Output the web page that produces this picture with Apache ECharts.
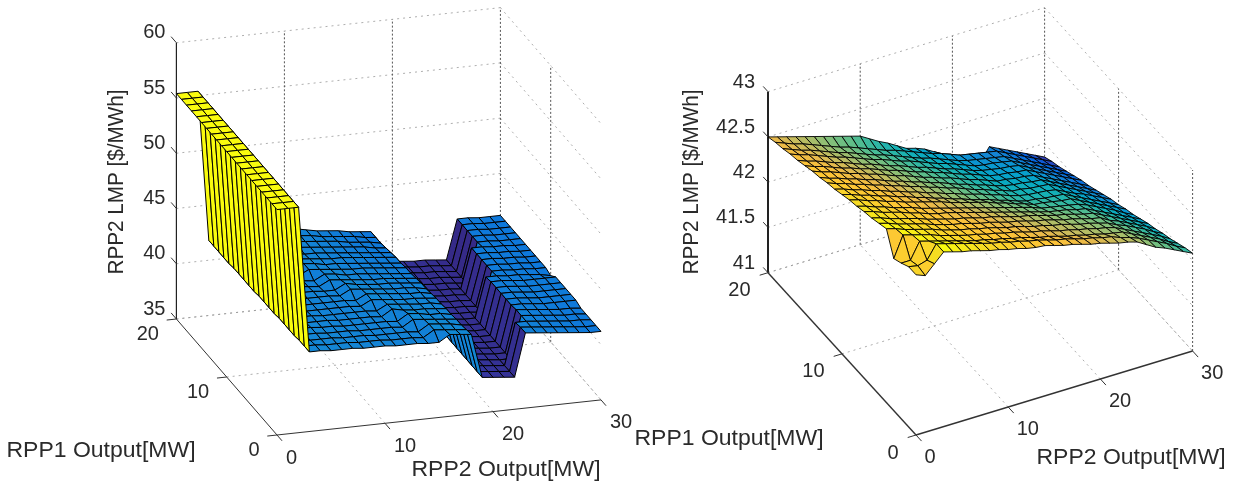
<!DOCTYPE html>
<html><head><meta charset="utf-8">
<style>html,body{margin:0;padding:0;background:#fff}#c{width:1233px;height:486px}</style>
<script src="https://cdn.jsdelivr.net/npm/echarts@6/dist/echarts.min.js"></script>
</head><body><div id="c"></div>
<script>
// ---- tick values
const rpp2Ticks = [0, 10, 20, 30];
const rpp1Ticks = [0, 10, 20];
const lmpTicksLeft = [35, 40, 45, 50, 55, 60];
const lmpTicksRight = [41, 41.5, 42, 42.5, 43];
const lmpLabelsRight = ['41', '41.5', '42', '42.5', '43'];
// ---- LMP surfaces: one row per RPP1 output (0..20 MW), one column per RPP2 output (0..30 MW)
const lmpLeft = [
[55.4,55.4,55.4,42.2,42.2,42.1,42.1,42.1,42.0,42.0,42.0,41.9,41.9,41.9,41.8,41.8,42.4,42.3,42.2,38.2,38.1,38.0,37.9,41.8,41.7,41.6,41.5,41.4,41.3,41.2,41.2],
[55.4,55.4,55.4,42.2,42.2,42.1,42.1,42.1,42.0,42.0,42.0,41.9,41.9,41.9,41.8,42.4,42.3,42.2,42.1,38.2,38.1,38.0,37.9,41.8,41.7,41.6,41.5,41.4,41.3,41.2,41.2],
[55.4,55.4,55.4,42.2,42.1,42.1,42.1,42.0,42.0,42.0,41.9,41.9,41.9,41.9,41.8,42.4,42.3,42.2,42.0,38.2,38.1,38.0,37.9,41.7,41.7,41.6,41.5,41.4,41.3,41.3,41.2],
[55.4,55.4,55.4,42.1,42.1,42.1,42.0,42.0,42.0,41.9,41.9,41.9,41.9,41.8,42.4,42.3,42.2,42.1,42.0,38.2,38.1,38.0,37.9,37.9,41.7,41.6,41.5,41.4,41.3,41.3,41.2],
[55.4,55.4,55.4,42.1,42.1,42.1,42.0,42.0,41.9,41.9,41.9,41.9,41.9,41.8,42.4,42.3,42.1,42.1,41.9,38.2,38.1,38.0,37.9,37.9,41.7,41.6,41.5,41.4,41.3,41.3,41.2],
[55.4,55.4,55.4,42.1,42.1,42.0,42.0,42.0,41.9,41.9,41.9,41.9,41.8,42.4,42.2,42.1,42.1,42.0,41.9,38.2,38.1,38.0,37.9,37.9,41.6,41.6,41.5,41.4,41.4,41.4,41.4],
[55.4,55.4,55.4,42.1,42.0,42.0,42.0,41.9,41.9,41.9,41.9,41.9,41.8,42.3,42.2,42.1,42.0,42.0,41.8,38.2,38.1,38.0,37.9,37.9,41.6,41.6,41.5,41.4,41.4,41.4,41.4],
[55.4,55.4,55.4,42.0,42.0,42.0,41.9,41.9,41.9,41.9,41.9,41.8,42.3,42.2,42.1,42.0,42.0,41.9,41.8,38.2,38.1,38.0,37.9,37.9,41.6,41.6,41.5,41.4,41.4,41.4,41.4],
[55.4,55.4,55.4,42.0,42.0,41.9,41.9,41.9,41.9,41.9,41.9,41.8,42.3,42.2,42.1,42.0,41.9,41.9,41.7,38.2,38.1,38.0,37.9,37.9,41.6,41.6,41.5,41.4,41.4,41.4,41.4],
[55.4,55.4,55.4,42.0,42.0,41.9,41.9,41.9,41.9,41.9,41.8,42.3,42.2,42.1,42.0,41.9,41.9,41.8,41.6,38.2,38.1,38.0,37.9,37.9,41.6,41.6,41.5,41.4,41.4,41.4,41.4],
[55.4,55.4,55.4,42.0,41.9,41.9,41.9,41.9,41.9,41.8,41.8,42.3,42.1,42.0,41.9,41.9,41.8,41.7,41.6,38.2,38.1,38.0,37.9,37.9,41.5,41.5,41.4,41.4,41.3,41.2,41.0],
[55.4,55.4,55.4,41.9,41.9,41.9,41.9,41.9,41.8,41.7,42.2,42.1,42.0,41.9,41.8,41.8,41.7,41.6,41.5,38.2,38.1,38.0,37.9,37.9,37.8,41.4,41.4,41.3,41.3,41.2,41.2],
[55.4,55.4,55.4,41.9,41.9,41.9,41.9,41.8,41.8,41.7,42.2,42.1,41.9,41.9,41.8,41.7,41.6,41.5,41.4,38.2,38.1,38.0,37.9,37.9,37.8,41.4,41.4,41.3,41.3,41.2,41.2],
[55.4,55.4,55.4,41.9,41.9,41.9,41.8,41.8,41.7,42.2,42.1,42.0,41.9,41.8,41.8,41.7,41.6,41.5,41.4,38.2,38.1,38.0,37.9,37.9,37.8,41.4,41.4,41.3,41.3,41.2,41.2],
[55.4,55.4,55.4,41.9,41.9,41.8,41.8,41.8,41.7,42.2,42.1,41.9,41.9,41.8,41.7,41.6,41.5,41.4,41.3,38.2,38.1,38.0,37.9,37.9,37.8,41.4,41.4,41.3,41.3,41.2,41.2],
[55.4,55.4,55.4,41.9,41.8,41.8,41.8,41.7,42.2,42.1,42.0,41.9,41.8,41.8,41.7,41.6,41.5,41.4,41.3,38.2,38.1,38.0,37.9,37.9,37.8,41.4,41.4,41.3,41.3,41.2,41.2],
[55.4,55.4,55.4,41.8,41.8,41.8,41.8,41.7,42.1,42.1,41.9,41.9,41.8,41.7,41.6,41.5,41.4,41.3,41.2,38.2,38.1,38.0,37.9,37.9,37.8,37.7,41.3,41.3,41.2,41.2,41.2],
[55.4,55.4,55.4,41.8,41.8,41.8,41.8,41.8,41.9,42.0,42.0,41.9,41.8,41.7,41.6,41.5,41.4,41.2,41.1,38.2,38.1,38.0,37.9,37.9,37.8,37.7,41.3,41.3,41.2,41.2,41.2],
[55.4,55.4,55.4,41.8,41.8,41.8,41.8,41.8,41.9,41.9,42.0,41.9,41.8,41.7,41.6,41.4,41.3,41.2,41.0,38.2,38.1,38.0,37.9,37.9,37.8,37.7,41.3,41.3,41.2,41.2,41.2],
[55.4,55.4,55.4,41.8,41.8,41.8,41.8,41.8,41.9,41.9,41.9,41.9,41.8,41.6,41.5,41.4,41.3,41.1,41.0,38.2,38.1,38.0,37.9,37.9,37.8,37.7,41.3,41.3,41.2,41.2,41.2],
[55.4,55.4,55.4,41.8,41.8,41.8,41.8,41.9,41.9,41.9,42.0,42.0,41.8,41.6,41.5,41.4,41.2,41.1,41.0,38.2,38.1,38.0,37.9,37.9,37.8,37.7,41.3,41.3,41.2,41.2,41.2]
];
const lmpRight = [
[42.77,42.73,42.83,42.93,42.90,42.87,42.85,42.82,42.79,42.77,42.74,42.72,42.69,42.67,42.66,42.63,42.60,42.58,42.55,42.52,42.50,42.47,42.44,42.42,42.39,42.33,42.27,42.23,42.18,42.13,42.08],
[42.77,42.75,42.78,42.93,42.90,42.87,42.84,42.81,42.78,42.75,42.73,42.70,42.68,42.65,42.63,42.60,42.57,42.55,42.52,42.49,42.47,42.44,42.42,42.38,42.35,42.31,42.26,42.21,42.16,42.10,42.05],
[42.72,42.72,42.90,42.87,42.84,42.81,42.78,42.75,42.72,42.70,42.67,42.65,42.62,42.60,42.57,42.54,42.52,42.49,42.46,42.44,42.41,42.39,42.36,42.34,42.32,42.27,42.22,42.17,42.12,42.06,42.01],
[42.68,42.91,42.88,42.85,42.82,42.78,42.75,42.72,42.69,42.67,42.64,42.62,42.59,42.57,42.54,42.51,42.49,42.46,42.43,42.41,42.38,42.36,42.33,42.31,42.28,42.23,42.18,42.13,42.08,42.03,41.97],
[42.92,42.89,42.85,42.82,42.79,42.76,42.72,42.69,42.66,42.64,42.61,42.59,42.56,42.53,42.51,42.48,42.45,42.43,42.40,42.38,42.35,42.32,42.30,42.27,42.24,42.19,42.15,42.10,42.05,41.99,41.94],
[42.89,42.86,42.82,42.79,42.76,42.73,42.69,42.66,42.63,42.61,42.58,42.55,42.53,42.50,42.47,42.45,42.42,42.39,42.37,42.34,42.31,42.29,42.26,42.23,42.21,42.15,42.11,42.06,42.01,41.96,41.90],
[42.86,42.83,42.79,42.76,42.73,42.70,42.66,42.63,42.60,42.57,42.55,42.52,42.49,42.47,42.44,42.41,42.38,42.36,42.33,42.30,42.27,42.25,42.22,42.19,42.17,42.12,42.07,42.02,41.97,41.92,41.87],
[42.84,42.81,42.77,42.74,42.71,42.67,42.64,42.60,42.57,42.55,42.52,42.49,42.46,42.43,42.40,42.37,42.34,42.31,42.28,42.25,42.22,42.20,42.18,42.15,42.13,42.08,42.03,41.98,41.93,41.88,41.83],
[42.81,42.78,42.74,42.71,42.67,42.64,42.61,42.57,42.54,42.51,42.48,42.45,42.42,42.39,42.36,42.33,42.30,42.27,42.24,42.21,42.17,42.15,42.13,42.11,42.09,42.05,42.00,41.95,41.90,41.84,41.79],
[42.79,42.76,42.72,42.69,42.65,42.62,42.58,42.55,42.52,42.49,42.46,42.42,42.39,42.36,42.33,42.30,42.26,42.23,42.19,42.16,42.12,42.11,42.09,42.07,42.06,42.01,41.96,41.91,41.86,41.81,41.76],
[42.76,42.73,42.69,42.66,42.62,42.59,42.55,42.52,42.48,42.45,42.41,42.38,42.34,42.31,42.27,42.24,42.21,42.17,42.14,42.10,42.07,42.06,42.04,42.03,42.02,41.97,41.92,41.87,41.82,41.77,41.72],
[42.73,42.70,42.66,42.63,42.59,42.56,42.52,42.49,42.45,42.42,42.38,42.35,42.31,42.28,42.24,42.21,42.18,42.14,42.11,42.07,42.04,42.02,42.01,42.00,41.98,41.93,41.88,41.84,41.79,41.74,41.69],
[42.71,42.67,42.64,42.60,42.57,42.53,42.50,42.46,42.43,42.39,42.36,42.32,42.29,42.25,42.22,42.18,42.14,42.11,42.07,42.04,42.00,41.99,41.97,41.96,41.95,41.90,41.85,41.80,41.75,41.70,41.65],
[42.68,42.64,42.61,42.57,42.54,42.50,42.47,42.43,42.39,42.36,42.32,42.29,42.25,42.22,42.18,42.14,42.11,42.07,42.04,42.00,41.97,41.95,41.94,41.92,41.91,41.86,41.81,41.76,41.71,41.66,41.61],
[42.66,42.62,42.59,42.55,42.51,42.48,42.44,42.41,42.37,42.33,42.30,42.26,42.22,42.19,42.15,42.12,42.08,42.04,42.01,41.97,41.93,41.92,41.90,41.89,41.87,41.82,41.77,41.72,41.67,41.62,41.57],
[42.63,42.59,42.56,42.52,42.48,42.45,42.41,42.38,42.34,42.30,42.27,42.23,42.19,42.16,42.12,42.09,42.05,42.01,41.98,41.94,41.90,41.88,41.87,41.85,41.84,41.79,41.74,41.69,41.64,41.59,41.54],
[42.60,42.56,42.53,42.49,42.45,42.42,42.38,42.34,42.31,42.27,42.23,42.20,42.16,42.12,42.09,42.05,42.01,41.98,41.94,41.90,41.87,41.85,41.83,41.82,41.80,41.75,41.70,41.65,41.60,41.55,41.50],
[42.58,42.54,42.51,42.47,42.43,42.39,42.36,42.32,42.28,42.24,42.21,42.17,42.13,42.10,42.06,42.02,41.98,41.95,41.91,41.87,41.83,41.81,41.80,41.78,41.76,41.71,41.66,41.61,41.56,41.51,41.46],
[42.55,42.51,42.47,42.44,42.40,42.36,42.32,42.29,42.25,42.21,42.17,42.14,42.10,42.06,42.02,41.98,41.95,41.91,41.87,41.83,41.80,41.78,41.76,41.74,41.72,41.67,41.62,41.57,41.52,41.47,41.42],
[42.53,42.49,42.45,42.42,42.38,42.34,42.30,42.26,42.23,42.19,42.15,42.11,42.07,42.04,42.00,41.96,41.92,41.88,41.85,41.81,41.77,41.75,41.73,41.71,41.69,41.64,41.59,41.54,41.49,41.44,41.39],
[42.50,42.47,42.44,42.41,42.38,42.35,42.32,42.29,42.26,42.23,42.20,42.14,42.08,42.03,41.97,41.91,41.88,41.84,41.78,41.72,41.66,41.60,41.55,41.50,41.65,41.60,41.55,41.50,41.45,41.40,41.35]
];
// MATLAB parula colormap stops
const parula = [[53,42,135],[50,67,186],[3,99,225],[13,117,220],[20,133,212],[9,152,209],[6,167,198],[22,177,180],[56,185,158],[101,190,134],[146,191,115],[193,188,96],[234,185,74],[254,195,55],[252,206,46],[245,222,33],[249,251,14]];

// ---- oblique view of each 3-D box
const views = {
  left: {gridW:620, ox:277, oy:435, mx:10.8, my:-1.17, kx:-5.03, ky:-5.8, z0:35, zy:-11.05, zMax:60, meshW:1,
         mTickLen:1, kTickLen:-0.9, zTickLen:1.05, zLabel:[-11,-10], kLabel:[-17.5,15], mLabel:[9,23], edgeAxisW:1, zAxisW:1.2, lastWall:false, lo:37.7, hi:55.4},
  right:{gridW:613, ox:296, oy:435, mx:9.22, my:-2.8, kx:-7.4, ky:-8.115, z0:41, zy:-90.5, zMax:43, meshW:0.9,
         mTickLen:0.75, kTickLen:-0.9, zTickLen:0.65, zLabel:[-13,-9.5], kLabel:[-17.5,18], mLabel:[8.5,22], edgeAxisW:1.4, zAxisW:2, lastWall:true, lo:41.35, hi:42.93}
};
const project = (v, m, k, z) => [v.ox + v.mx * m + v.kx * k, v.oy + v.my * m + v.ky * k + v.zy * (z - v.z0)];

function colorOf(v, z) {
  const t = Math.min(1, Math.max(0, (z - v.lo) / (v.hi - v.lo))) * (parula.length - 1);
  const i = Math.min(parula.length - 2, Math.floor(t)), f = t - i;
  const c = parula[i].map((a, j) => Math.round(a + (parula[i + 1][j] - a) * f));
  return 'rgb(' + c.join(',') + ')';
}

// painter's order: farthest cell first
function surfaceCells(rows) {
  const out = [];
  for (let k = rows.length - 2; k >= 0; k--)
    for (let m = rows[0].length - 2; m >= 0; m--)
      out.push([m, k, rows[k][m], rows[k][m + 1], rows[k + 1][m + 1], rows[k + 1][m]]);
  return out;
}
function surfaceSeries(v, rows, idx) {
  return {type:'custom', xAxisIndex:idx, yAxisIndex:idx, z:3, silent:true, animation:false, progressive:0,
    data:surfaceCells(rows),
    renderItem:(p, api) => {
      const m = api.value(0), k = api.value(1);
      const pts = [[m,k,api.value(2)],[m+1,k,api.value(3)],[m+1,k+1,api.value(4)],[m,k+1,api.value(5)]]
        .map(q => api.coord(project(v, q[0], q[1], q[2])));
      return {type:'polygon', shape:{points:pts}, style:{fill:colorOf(v, api.value(2)), stroke:'#000', lineWidth:v.meshW, lineJoin:'round'}};
    }};
}

// guide segments: [m1,k1,z1,m2,k2,z2,kind]  kind 0 light grid, 1 vertical grid, 2 axis line, 3 z axis, 4 tick
function guideSegments(v, zTicks) {
  const s = [], zLo = v.z0, zHi = v.zMax, mMax = 30, kMax = 20;
  zTicks.forEach(z => { s.push([0,kMax,z,mMax,kMax,z,0]); s.push([mMax,kMax,z,mMax,0,z,0]); });
  rpp2Ticks.forEach(m => { if (m > 0) { s.push([m,kMax,zLo,m,kMax,zHi,1]); s.push([m,0,zLo,m,kMax,zLo,0]); } });
  rpp1Ticks.forEach(k => {
    if (k > 0 || v.lastWall) { if (k < kMax) s.push([mMax,k,zLo,mMax,k,zHi,1]); }
    if (k > 0) s.push([0,k,zLo,mMax,k,zLo,0]);
  });
  s.push([0,kMax,zLo,0,kMax,zHi,3]);
  s.push([0,kMax,zLo,0,0,zLo,2]);
  s.push([0,0,zLo,mMax,0,zLo,2]);
  zTicks.forEach(z => s.push([0,kMax,z,0,kMax + v.zTickLen,z,4]));
  rpp1Ticks.forEach(k => s.push([0,k,zLo,v.kTickLen,k,zLo,4]));
  rpp2Ticks.forEach(m => s.push([m,0,zLo,m,-v.mTickLen,zLo,4]));
  return s;
}
function guideSeries(v, zTicks, idx) {
  return {type:'custom', xAxisIndex:idx, yAxisIndex:idx, z:1, silent:true, animation:false, progressive:0,
    data:guideSegments(v, zTicks),
    renderItem:(p, api) => {
      const a = api.coord(project(v, api.value(0), api.value(1), api.value(2)));
      const b = api.coord(project(v, api.value(3), api.value(4), api.value(5)));
      const kind = api.value(6);
      const st = [
        {stroke:'#999', lineWidth:0.8, lineDash:[2,4]},
        {stroke:'#555', lineWidth:1, lineDash:[2,2]},
        {stroke:'#333', lineWidth:v.edgeAxisW},
        {stroke:'#222', lineWidth:v.zAxisW},
        {stroke:'#333', lineWidth:1}
      ][kind];
      return {type:'line', shape:{x1:a[0],y1:a[1],x2:b[0],y2:b[1]}, style:st};
    }};
}
// tick labels: [m,k,z,labelIndex,axisKind]
function labelSeries(v, zTicks, zLabels, idx) {
  const d = [], texts = [];
  const add = (m, k, z, t, kind) => { texts.push(t); d.push([m, k, z, texts.length - 1, kind]); };
  zTicks.forEach((z, i) => add(0, 20, z, zLabels[i], 0));
  rpp1Ticks.forEach(k => add(0, k, v.z0, String(k), 1));
  rpp2Ticks.forEach(m => add(m, 0, v.z0, String(m), 2));
  return {type:'custom', xAxisIndex:idx, yAxisIndex:idx, z:2, silent:true, animation:false, progressive:0, data:d,
    renderItem:(p, api) => {
      const q = api.coord(project(v, api.value(0), api.value(1), api.value(2)));
      const kind = api.value(4), off = [v.zLabel, v.kLabel, v.mLabel][kind];
      return {type:'text', x:q[0] + off[0], y:q[1] + off[1], style:{text:texts[api.value(3)], align:kind === 2 ? 'left' : 'right', verticalAlign:'middle', fontFamily:'Liberation Sans', fontSize:20, fill:'#2a2a2a'}};
    }};
}

const xTitle = (text, x, y) => ({type:'text', x, y, scaleX:1.045, z:5,
  style:{text, align:'center', verticalAlign:'middle', fontFamily:'Liberation Sans', fontSize:22, fill:'#2a2a2a'}});
const zTitle = (text, x, y) => ({type:'text', x, y, rotation:Math.PI / 2, scaleX:0.94, z:5,
  style:{text, align:'center', verticalAlign:'middle', fontFamily:'Liberation Sans', fontSize:22, fill:'#2a2a2a'}});

const hidden = {type:'value', show:false};
const chart = echarts.init(document.getElementById('c'), null, {renderer:'canvas'});
chart.setOption({
  animation:false, backgroundColor:'#fff',
  grid:[{left:0, top:0, width:views.left.gridW, height:486},{left:620, top:0, width:views.right.gridW, height:486}],
  xAxis:[{...hidden, gridIndex:0, min:0, max:views.left.gridW},{...hidden, gridIndex:1, min:0, max:views.right.gridW}],
  yAxis:[{...hidden, gridIndex:0, min:0, max:486, inverse:true},{...hidden, gridIndex:1, min:0, max:486, inverse:true}],
  series:[
    guideSeries(views.left, lmpTicksLeft, 0),
    labelSeries(views.left, lmpTicksLeft, lmpTicksLeft.map(String), 0),
    surfaceSeries(views.left, lmpLeft, 0),
    guideSeries(views.right, lmpTicksRight, 1),
    labelSeries(views.right, lmpTicksRight, lmpLabelsRight, 1),
    surfaceSeries(views.right, lmpRight, 1)
  ],
  graphic:[
    zTitle('RPP2 LMP [$/MWh]', 117, 182),
    xTitle('RPP1 Output[MW]', 101, 451),
    xTitle('RPP2 Output[MW]', 506, 470),
    zTitle('RPP2 LMP [$/MWh]', 692, 182),
    xTitle('RPP1 Output[MW]', 729, 439),
    xTitle('RPP2 Output[MW]', 1131, 458)
  ]
});
</script></body></html>
